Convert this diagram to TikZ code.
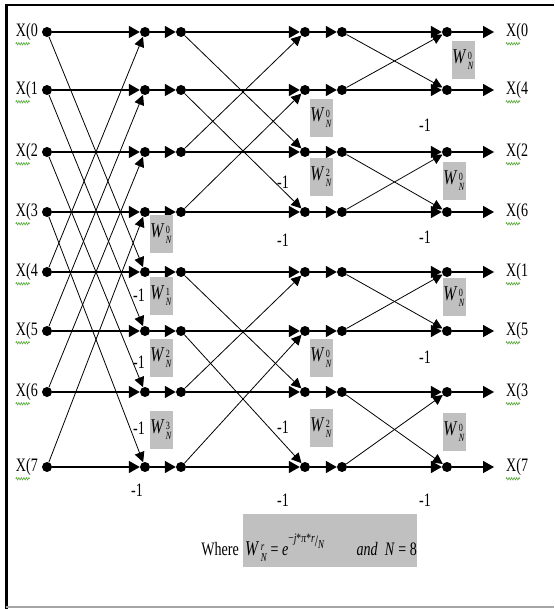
\documentclass[tikz,border=0pt]{standalone}
\usepackage{fontspec}
\setmainfont{Liberation Serif}
\newfontfamily\cond[FakeStretch=0.74]{Liberation Serif}
\usetikzlibrary{arrows.meta,decorations.pathmorphing}
\definecolor{boxgray}{RGB}{192,192,192}
\definecolor{spell}{RGB}{90,170,60}
\definecolor{rulegray}{RGB}{165,165,165}
\newcommand{\twf}[1]{{\fontsize{21}{21}\selectfont\textit{W}}\kern1.5pt\raisebox{-6pt}{\fontsize{11}{13}\selectfont\shortstack[l]{#1\\\textit{N}}}}
\begin{document}
\begin{tikzpicture}[x=1pt,y=-1pt,
  every node/.style={font=\cond\fontsize{19}{19}\selectfont},
  dot/.style={circle,fill=black,inner sep=0pt,minimum size=10pt},
  hline/.style={line width=1.6pt,-{Triangle[length=11pt,width=12pt]}},
  dline/.style={line width=0.8pt,-{Triangle[length=10pt,width=10pt]}},
  wbox/.style={fill=boxgray,inner sep=0pt,minimum width=23pt,minimum height=38pt},
  lbl/.style={inner sep=0pt},
  squig/.style={spell,line width=0.6pt,decorate,decoration={zigzag,amplitude=1.2pt,segment length=2.5pt}}]
\useasboundingbox[fill=white] (0,0) rectangle (554,609);
% frame
\draw[line width=2.5pt] (5,5) -- (554,5);
\draw[line width=3pt] (6,4) -- (6,609);
\draw[rulegray,line width=1.5pt] (6,607) -- (554,607);
% dots and labels
\foreach \i/\y in {0/32,1/90,2/152,3/212,4/272,5/331,6/392,7/467} {
  \node[dot] (a\i) at (47,\y) {};
  \node[dot] (b\i) at (145,\y) {};
  \node[dot] (c\i) at (181,\y) {};
  \node[dot] (d\i) at (305,\y) {};
  \node[dot] (e\i) at (342,\y) {};
  \node[dot] (f\i) at (447,\y) {};
  \coordinate (g\i) at (494,\y);
  \node[lbl,anchor=east] (in\i) at (38,\y) {X(\i};
  \draw[squig] ([yshift=-3pt]in\i.south west) -- ++(14,0);
}
\foreach \i/\k in {0/0,1/4,2/2,3/6,4/1,5/5,6/3,7/7} {
  \node[lbl,anchor=west] (out\i) at (506,0|-g\i) {X(\k};
  \draw[squig] ([yshift=-3pt]out\i.south west) -- ++(14,0);
}
% horizontal lines
\foreach \i in {0,...,7} {
  \draw[hline] (a\i) -- (b\i);
  \draw[hline] (b\i) -- (c\i);
  \draw[hline] (c\i) -- (d\i);
  \draw[hline] (d\i) -- (e\i);
  \draw[hline] (e\i) -- (f\i);
  \draw[hline] (f\i) -- (g\i);
}
% stage 1 diagonals
\foreach \i/\j in {0/4,1/5,2/6,3/7} {
  \draw[dline] (a\i) -- (b\j);
  \draw[dline] (a\j) -- (b\i);
}
% stage 2 diagonals
\foreach \i/\j in {0/2,1/3,4/6,5/7} {
  \draw[dline] (c\i) -- (d\j);
  \draw[dline] (c\j) -- (d\i);
}
% stage 3 diagonals
\foreach \i/\j in {0/1,2/3,4/5,6/7} {
  \draw[dline] (e\i) -- (f\j);
  \draw[dline] (e\j) -- (f\i);
}
% twiddle boxes
\node[wbox] (wa0) at (161,234) {\twf{0}};
\node[wbox] (wa1) at (161,296) {\twf{1}};
\node[wbox] (wa2) at (161,358) {\twf{2}};
\node[wbox] (wa3) at (161,430) {\twf{3}};
\node[wbox] (wb0) at (321,118) {\twf{0}};
\node[wbox] (wb1) at (321,177) {\twf{2}};
\node[wbox] (wb2) at (321,358) {\twf{0}};
\node[wbox] (wb3) at (321,428) {\twf{2}};
\node[wbox] (wc0) at (463,60) {\twf{0}};
\node[wbox] (wc1) at (454,181) {\twf{0}};
\node[wbox] (wc2) at (454,297) {\twf{0}};
\node[wbox] (wc3) at (454,432) {\twf{0}};
% -1 labels
\foreach \x/\y [count=\n] in {139/295,139/362,139/428,137/490,283/182,283/240,283/427,283/500,425/125,425/237,425/357,425/500}
  \node[lbl] (m\n) at (\x,\y) {-1};
% formula
\node[fill=boxgray,inner sep=0pt,minimum width=174pt,minimum height=53pt] (fbox) at (330,540.5) {};
\node[lbl,anchor=base east] (where) at (239,555) {Where};
\node[lbl,anchor=base west] (form) at (245,555) {{\fontsize{21}{21}\selectfont\textit{W}}\kern1.5pt\raisebox{-6pt}{\fontsize{12}{13}\selectfont\shortstack[l]{\textit{r}\\\textit{N}}} = \textit{e}\raisebox{13pt}{\fontsize{13}{13}\selectfont −\textit{j}*\textit{π}*\textit{r}}\raisebox{9pt}{\fontsize{16}{16}\selectfont/}\raisebox{7pt}{\fontsize{12}{12}\selectfont\textit{N}}};
\node[lbl,anchor=base east] (neq) at (417,555) {\textit{and}\ \ \textit{N} = 8};
\end{tikzpicture}
\end{document}
